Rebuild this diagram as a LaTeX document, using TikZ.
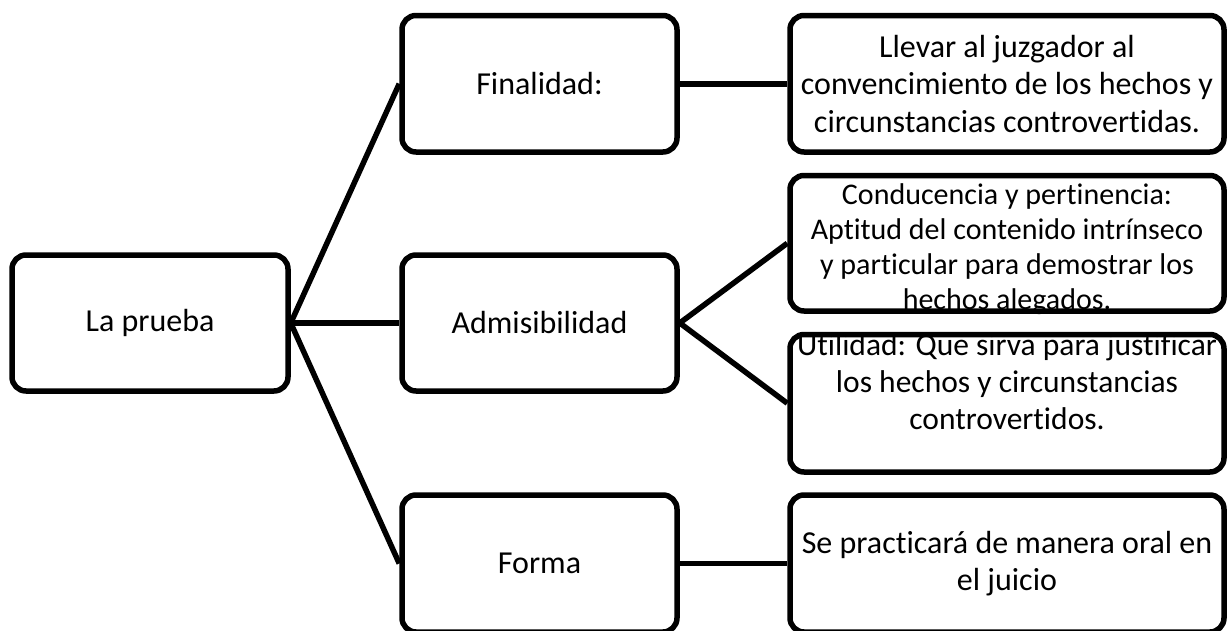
\documentclass[tikz,border=0pt]{standalone}
\usepackage{fontspec}
\setmainfont{Carlito}[Ligatures={NoCommon}]
\begin{document}
\begin{tikzpicture}[x=1pt,y=-1pt,
  box/.style={draw=black, line width=5.5pt, rounded corners=14pt, fill=white, inner sep=0pt},
  txt/.style={align=center, inner sep=0pt, font=\fontsize{32}{37.5}\selectfont},
  link/.style={draw=black, line width=5.5pt}]
\useasboundingbox (0,0) rectangle (1227,630);
% boxes (line centres)
\node[box, minimum width=276pt, minimum height=136pt] (prueba) at (150,323) {};
\node[box, minimum width=275pt, minimum height=136.5pt] (fin) at (539.5,83.75) {};
\node[box, minimum width=275pt, minimum height=136pt] (adm) at (539.5,323) {};
\node[box, minimum width=275pt, minimum height=137pt] (forma) at (539.5,563.5) {};
\node[box, minimum width=434pt, minimum height=136.5pt] (llevar) at (1007,83.75) {};
\node[box, minimum width=434pt, minimum height=135.5pt] (cond) at (1007,243.25) {};
\node[box, minimum width=434pt, minimum height=137.5pt] (util) at (1007,403.25) {};
\node[box, minimum width=434pt, minimum height=137pt] (oral) at (1007,563.5) {};
% connectors
\draw[link] (prueba.east) -- (fin.west);
\draw[link] (prueba.east) -- (adm.west);
\draw[link] (prueba.east) -- (forma.west);
\draw[link] (fin.east) -- (llevar.west);
\draw[link] (adm.east) -- (cond.west);
\draw[link] (adm.east) -- (util.west);
\draw[link] (forma.east) -- (oral.west);
% texts
\node[txt] (tprueba) at (prueba.center) {La prueba};
\node[txt] (tfin) at (fin.center) {Finalidad:};
\node[txt] (tadm) at (adm.center) {Admisibilidad};
\node[txt] (tforma) at (forma.center) {Forma};
\node[txt] (tllevar) at (llevar.center) {Llevar al juzgador al\\convencimiento de los hechos y\\circunstancias controvertidas.};
\node[txt, font=\fontsize{30}{35}\selectfont] (tcond) at (1007,249) {Conducencia y pertinencia:\\Aptitud del contenido intrínseco\\y particular para demostrar los\\hechos alegados.};
\node[txt, font=\fontsize{31.5}{37}\selectfont] (tutil) at (1007,382) {Utilidad: Que sirva para justificar\\los hechos y circunstancias\\controvertidos.};
\node[txt] (toral) at (oral.center) {Se practicará de manera oral en\\el juicio};
\end{tikzpicture}
\end{document}
